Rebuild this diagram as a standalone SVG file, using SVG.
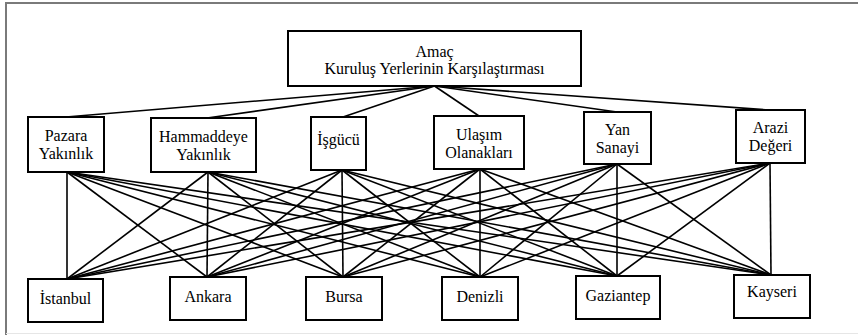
<svg xmlns="http://www.w3.org/2000/svg" width="858" height="335" viewBox="0 0 858 335">
<style>
.box{fill:#fff;stroke:#000;stroke-width:2}
.t{font-family:'Liberation Serif','Times New Roman','DejaVu Serif',serif;font-size:16px;fill:#000;text-anchor:middle}
.c line{stroke:#000;stroke-width:1.6}
</style>
<rect x="0" y="0" width="858" height="335" fill="#fff"/>
<g id="frame">
<line x1="5" y1="3" x2="858" y2="3" stroke="#7a7a7a" stroke-width="2"/>
<line x1="6" y1="3" x2="6" y2="335" stroke="#7a7a7a" stroke-width="2"/>
<line x1="6" y1="333.5" x2="858" y2="333.5" stroke="#e6e6e6" stroke-width="1"/>
</g>
<g class="c" id="connectors">
<line x1="434.5" y1="86" x2="66" y2="117"/>
<line x1="434.5" y1="86" x2="207" y2="118"/>
<line x1="434.5" y1="86" x2="343" y2="117"/>
<line x1="434.5" y1="86" x2="479" y2="116"/>
<line x1="434.5" y1="86" x2="617" y2="112"/>
<line x1="434.5" y1="86" x2="769" y2="110"/>

<line x1="67" y1="172" x2="67" y2="279"/>
<line x1="67" y1="172" x2="207" y2="277"/>
<line x1="67" y1="172" x2="343" y2="277"/>
<line x1="67" y1="172" x2="480" y2="277"/>
<line x1="67" y1="172" x2="617" y2="276"/>
<line x1="67" y1="172" x2="771" y2="275"/>

<line x1="208" y1="172" x2="67" y2="279"/>
<line x1="208" y1="172" x2="207" y2="277"/>
<line x1="208" y1="172" x2="343" y2="277"/>
<line x1="208" y1="172" x2="480" y2="277"/>
<line x1="208" y1="172" x2="617" y2="276"/>
<line x1="208" y1="172" x2="771" y2="275"/>

<line x1="342" y1="170" x2="67" y2="279"/>
<line x1="342" y1="170" x2="207" y2="277"/>
<line x1="342" y1="170" x2="343" y2="277"/>
<line x1="342" y1="170" x2="480" y2="277"/>
<line x1="342" y1="170" x2="617" y2="276"/>
<line x1="342" y1="170" x2="771" y2="275"/>

<line x1="480" y1="169" x2="67" y2="279"/>
<line x1="480" y1="169" x2="207" y2="277"/>
<line x1="480" y1="169" x2="343" y2="277"/>
<line x1="480" y1="169" x2="480" y2="277"/>
<line x1="480" y1="169" x2="617" y2="276"/>
<line x1="480" y1="169" x2="771" y2="275"/>

<line x1="617" y1="164" x2="67" y2="279"/>
<line x1="617" y1="164" x2="207" y2="277"/>
<line x1="617" y1="164" x2="343" y2="277"/>
<line x1="617" y1="164" x2="480" y2="277"/>
<line x1="617" y1="164" x2="617" y2="276"/>
<line x1="617" y1="164" x2="771" y2="275"/>

<line x1="770" y1="163" x2="67" y2="279"/>
<line x1="770" y1="163" x2="207" y2="277"/>
<line x1="770" y1="163" x2="343" y2="277"/>
<line x1="770" y1="163" x2="480" y2="277"/>
<line x1="770" y1="163" x2="617" y2="276"/>
<line x1="770" y1="163" x2="771" y2="275"/>
</g>

<g id="goal">
<rect class="box" x="288" y="31" width="293" height="55"/>
<text class="t" font-family="Liberation Serif, serif" x="434.5" y="57">Amaç</text>
<text class="t" font-family="Liberation Serif, serif" x="434.5" y="74">Kuruluş Yerlerinin Karşılaştırması</text>
</g>

<g id="pazara">
<rect class="box" x="28" y="117" width="76" height="55"/>
<text class="t" x="66" y="141">Pazara</text>
<text class="t" x="66" y="159">Yakınlık</text>
</g>
<g id="hammadde">
<rect class="box" x="151" y="118" width="105" height="54"/>
<text class="t" x="203.5" y="142">Hammaddeye</text>
<text class="t" x="203.5" y="160">Yakınlık</text>
</g>
<g id="isgucu">
<rect class="box" x="311" y="117" width="55" height="53"/>
<text class="t" x="338.5" y="145">İşgücü</text>
</g>
<g id="ulasim">
<rect class="box" x="434" y="116" width="90" height="53"/>
<text class="t" x="479" y="140">Ulaşım</text>
<text class="t" x="479" y="158">Olanakları</text>
</g>
<g id="yansanayi">
<rect class="box" x="584" y="112" width="67" height="52"/>
<text class="t" x="617.5" y="135">Yan</text>
<text class="t" x="617.5" y="153">Sanayi</text>
</g>
<g id="arazi">
<rect class="box" x="736" y="110" width="69" height="53"/>
<text class="t" x="770.5" y="133">Arazi</text>
<text class="t" x="770.5" y="151">Değeri</text>
</g>

<g id="istanbul">
<rect class="box" x="28" y="279" width="75" height="43"/>
<text class="t" x="65.5" y="304">İstanbul</text>
</g>
<g id="ankara">
<rect class="box" x="170" y="277" width="76" height="43"/>
<text class="t" x="208" y="302">Ankara</text>
</g>
<g id="bursa">
<rect class="box" x="306" y="277" width="76" height="43"/>
<text class="t" x="344" y="302">Bursa</text>
</g>
<g id="denizli">
<rect class="box" x="442" y="277" width="76" height="43"/>
<text class="t" x="480" y="302">Denizli</text>
</g>
<g id="gaziantep">
<rect class="box" x="576" y="276" width="84" height="43"/>
<text class="t" x="618" y="301">Gaziantep</text>
</g>
<g id="kayseri">
<rect class="box" x="734" y="275" width="76" height="43"/>
<text class="t" x="772" y="297">Kayseri</text>
</g>
</svg>
